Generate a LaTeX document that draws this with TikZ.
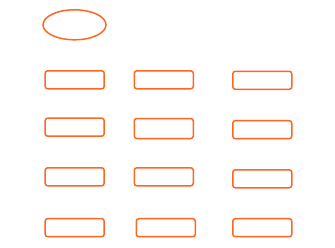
\documentclass[tikz,border=0pt]{standalone}
\usetikzlibrary{shapes.geometric}
\definecolor{boxorange}{RGB}{255,102,34}
\begin{document}
\begin{tikzpicture}[x=1pt,y=-1pt,
  boxnode/.style={draw=boxorange,line width=1.5pt,rounded corners=2.5pt,minimum width=59pt,minimum height=18pt,inner sep=0pt},
  ovalnode/.style={draw=boxorange,line width=1.5pt,ellipse,minimum width=63pt,minimum height=30pt,inner sep=0pt}]
\useasboundingbox (0,0) rectangle (335,247);
\node[ovalnode] (top) at (74.5,24.8) {};
\node[boxnode] (a1) at (74.7,79.8) {};
\node[boxnode] (a2) at (74.7,127.2) {};
\node[boxnode] (a3) at (74.7,176.8) {};
\node[boxnode] (a4) at (74.7,227.7) {};
\node[boxnode] (b1) at (163.8,79.8) {};
\node[boxnode,minimum height=20pt] (b2) at (163.8,128.5) {};
\node[boxnode] (b3) at (163.8,176.8) {};
\node[boxnode] (b4) at (165.8,227.7) {};
\node[boxnode] (c1) at (262.3,80.3) {};
\node[boxnode] (c2) at (262.3,129.7) {};
\node[boxnode] (c3) at (262.3,178.8) {};
\node[boxnode] (c4) at (262.3,227.7) {};
\end{tikzpicture}
\end{document}
